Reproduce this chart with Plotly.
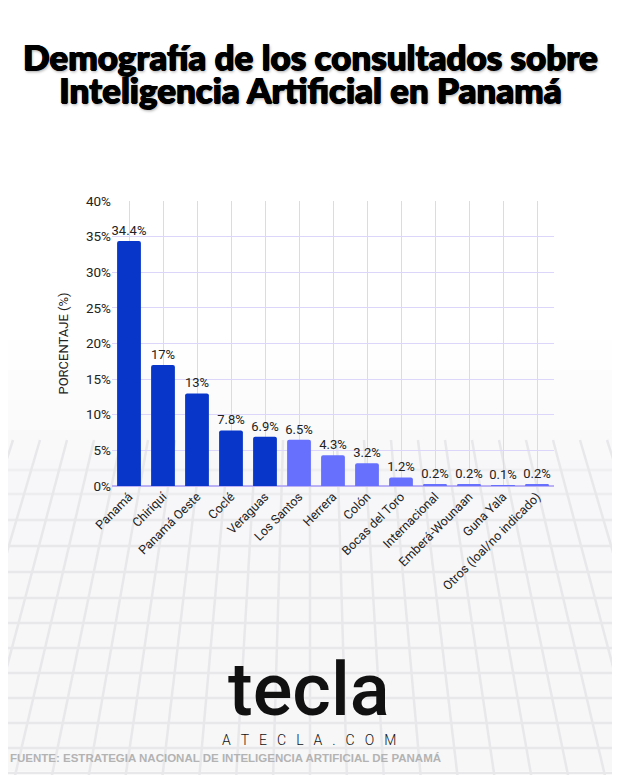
import plotly.graph_objects as go

categories = ["Panamá", "Chiriquí", "Panamá Oeste", "Coclé", "Veraguas", "Los Santos",
              "Herrera", "Colón", "Bocas del Toro", "Internacional", "Emberá-Wounaan",
              "Guna Yala", "Otros (loal/no indicado)"]
values = [34.4, 17, 13, 7.8, 6.9, 6.5, 4.3, 3.2, 1.2, 0.2, 0.2, 0.1, 0.2]
y_ticks = [0, 5, 10, 15, 20, 25, 30, 35, 40]
y_tick_labels = [f"{v}%" for v in y_ticks]

DARK = "#0836c9"
LIGHT = "#6670fc"
colors = [DARK] * 5 + [LIGHT] * (len(categories) - 5)

W, H = 620, 775
OFF = 8  # page body offset
ml, mt = 112 - OFF, 201 - OFF
mr = W - (554 - OFF)
mb = H - (486 - OFF)
pw, ph = W - ml - mr, H - mt - mb


def px(x):  # screen x -> paper
    return (x - OFF - ml) / pw


def py(y):  # screen y -> paper
    return (H - mb - (y - OFF)) / ph


fig = go.Figure()
fig.add_trace(go.Bar(
    x=categories, y=values,
    marker=dict(color=colors, cornerradius=2, line=dict(width=0)),
    texttemplate="%{y}%", textposition="outside", cliponaxis=False,
    constraintext="none",
    textfont=dict(family="Roboto", size=13, color="#222"),
    width=0.7,
))

# decorative background: fading perspective grid in lower half
shapes = []
for yy, op in [(340, 0.15), (370, 0.2), (400, 0.25), (430, 0.3), (460, 0.4), (500, 0.6), (560, 0.8)]:
    shapes.append(dict(type="rect", xref="paper", yref="paper", x0=-1, x1=2,
                       y0=-1, y1=py(yy), fillcolor="#f6f6f8", opacity=op,
                       line=dict(width=0), layer="below"))
hlines = [470, 494, 520, 546, 572, 598, 623, 648, 673, 698, 723, 748, 773]
for i, yy in enumerate(hlines):
    shapes.append(dict(type="line", xref="paper", yref="paper",
                       x0=px(-5), x1=px(W + 5), y0=py(yy), y1=py(yy),
                       line=dict(color="#e8e8eb", width=2.5), layer="below",
                       opacity=min(1.0, 0.5 + 0.15 * i)))
for k in range(-11, 12):
    xt = 310 + k * 27
    xb = 310 + k * 37
    shapes.append(dict(type="line", xref="paper", yref="paper",
                       x0=px(xt), x1=px(xb), y0=py(440), y1=py(H + 5),
                       line=dict(color="#e8e8eb", width=2.5), layer="below"))

title_text = ('<span style="font-size:35px">Demografía de los consultados sobre</span><br>'
              '<span style="font-size:35px">Inteligencia Artificial en Panamá</span>')
gap = "\u2002\u2009"
site_text = gap.join(list("ATECLA.COM"))

fig.update_layout(
    width=W, height=H,
    margin=dict(l=ml, r=mr, t=mt, b=mb),
    paper_bgcolor="white", plot_bgcolor="rgba(0,0,0,0)",
    showlegend=False,
    shapes=shapes,
    xaxis=dict(
        tickangle=-45, showgrid=True, gridcolor="#dcd6fb", gridwidth=1,
        tickfont=dict(family="Roboto", size=12.5, color="#222"),
        showline=False, ticks="", zeroline=False,
    ),
    yaxis=dict(
        range=[0, 40], tickvals=y_ticks, ticktext=y_tick_labels,
        showgrid=True, gridcolor="#dcd6fb", gridwidth=1,
        zeroline=True, zerolinecolor="#b9b0f5", zerolinewidth=2,
        tickfont=dict(family="Roboto", size=13.5, color="#222"),
        title=dict(text="PORCENTAJE (%)", font=dict(family="Roboto", size=13, color="#222"), standoff=14),
        ticks="", showline=False,
    ),
    annotations=[
        dict(text=title_text, xref="paper", yref="paper",
             x=px(310), y=py(73), xanchor="center", yanchor="middle", showarrow=False,
             font=dict(family="Lato", size=25.5, color="#000", weight=900,
                       shadow="0.7px 0 0 #000, -0.7px 0 0 #000, 0 0.7px 0 #000, 1px 2px 3px rgba(0,0,0,0.35)")),
        dict(text="tecla", xref="paper", yref="paper", x=px(309), y=py(689),
             xanchor="center", yanchor="middle", showarrow=False,
             font=dict(family="Roboto", size=74, color="#111", weight=500)),
        dict(text=site_text, xref="paper", yref="paper", x=px(309), y=py(740),
             xanchor="center", yanchor="middle", showarrow=False,
             font=dict(family="Roboto", size=14, color="#111", weight=300)),
        dict(text="FUENTE: ESTRATEGIA NACIONAL DE INTELIGENCIA ARTIFICIAL DE PANAMÁ",
             xref="paper", yref="paper", x=px(8), y=py(758),
             xanchor="left", yanchor="middle", showarrow=False,
             font=dict(family="Liberation Sans", size=11.5, color="#b3b3b3", weight=700)),
    ],
)

fig.write_html("out.html")
